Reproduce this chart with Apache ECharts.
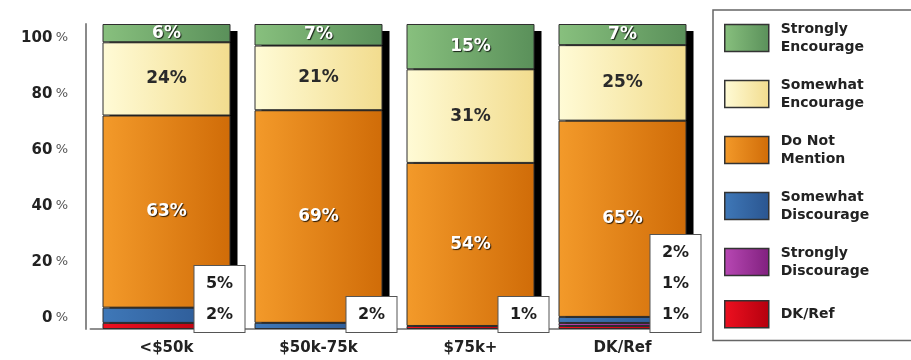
<!DOCTYPE html>
<html>
<head>
<meta charset="utf-8">
<script src="https://cdn.jsdelivr.net/npm/echarts@6/dist/echarts.min.js"></script>
<style>
html,body{margin:0;padding:0;background:#fff;}
#chart{width:911px;height:360px;}
</style>
</head>
<body>
<div id="chart"></div>
<script>
const categories = ['<$50k', '$50k-75k', '$75k+', 'DK/Ref'];
const stronglyEncourage = [6, 7, 15, 7];
const somewhatEncourage = [24, 21, 31, 25];
const doNotMention = [63, 69, 54, 65];
const somewhatDiscourage = [5, 2, 0, 2];
const stronglyDiscourage = [0, 0, 0, 1];
const dkRef = [2, 0, 1, 1];
const seriesNames = ['Strongly Encourage', 'Somewhat Encourage', 'Do Not Mention', 'Somewhat Discourage', 'Strongly Discourage', 'DK/Ref'];
const yTickInterval = 20;

const FONT = 'DejaVu Sans';
const BAR_W = 128;
const grad = (a, b) => new echarts.graphic.LinearGradient(0, 0, 1, 0, [{offset: 0, color: a}, {offset: 1, color: b}]);

const styles = {
  'Strongly Encourage': {fill: grad('#88c07e', '#5a905a'), label: 'light'},
  'Somewhat Encourage': {fill: grad('#fffbd6', '#f2dc8e'), label: 'dark'},
  'Do Not Mention': {fill: grad('#f39a2a', '#d06c08'), label: 'light'},
  'Somewhat Discourage': {fill: grad('#3f78b8', '#2a5590'), label: null},
  'Strongly Discourage': {fill: grad('#b848b4', '#80207e'), label: null},
  'DK/Ref': {fill: grad('#ee1020', '#b4000e'), label: null}
};
const values = {
  'Strongly Encourage': stronglyEncourage,
  'Somewhat Encourage': somewhatEncourage,
  'Do Not Mention': doNotMention,
  'Somewhat Discourage': somewhatDiscourage,
  'Strongly Discourage': stronglyDiscourage,
  'DK/Ref': dkRef
};

// totals per category: the chart shows each bar as a 100% stack
const totals = categories.map((c, i) => seriesNames.reduce((s, n) => s + values[n][i], 0));

// stacking order: bottom first
const stackOrder = seriesNames.slice().reverse();

const barSeries = stackOrder.map(name => {
  const s = styles[name];
  let label = {show: false};
  const fmt = p => p.data.raw + '%';
  if (s.label === 'light') {
    label = {show: true, position: 'inside', formatter: fmt, fontFamily: FONT, fontWeight: 'bold', fontSize: 17,
      color: '#ffffff', textShadowColor: 'rgba(0,0,0,0.8)', textShadowOffsetX: 1, textShadowOffsetY: 1, textShadowBlur: 1};
  } else if (s.label === 'dark') {
    label = {show: true, position: 'inside', formatter: fmt, fontFamily: FONT, fontWeight: 'bold', fontSize: 17, color: '#2a2a2a'};
  }
  return {
    name: name,
    type: 'bar',
    stack: 'total',
    barWidth: BAR_W,
    z: 3,
    data: values[name].map((v, i) => v === 0 ? {value: '-', raw: 0} : {value: v / totals[i] * 100, raw: v}),
    itemStyle: {color: s.fill, borderColor: '#2e2e2e', borderWidth: 1},
    label: label,
    emphasis: {disabled: true}
  };
});

// black drop shadow behind each full bar
const shadowSeries = {
  type: 'custom',
  z: 1,
  silent: true,
  clip: false,
  data: categories.map((c, i) => [i, 100]),
  renderItem: (params, api) => {
    const top = api.coord([api.value(0), api.value(1)]);
    const bottom = api.coord([api.value(0), 0]);
    return {
      type: 'rect',
      shape: {x: top[0] - BAR_W / 2 + 7, y: top[1] + 7, width: BAR_W, height: bottom[1] - top[1] - 7},
      style: {fill: '#000'}
    };
  }
};

// callout boxes for the small bottom segments
const smallLines = categories.map((c, i) => {
  const arr = [];
  if (somewhatDiscourage[i] > 0) arr.push(somewhatDiscourage[i] + '%');
  if (stronglyDiscourage[i] > 0) arr.push(stronglyDiscourage[i] + '%');
  if (dkRef[i] > 0) arr.push(dkRef[i] + '%');
  return arr.join('\n');
});

const calloutSeries = {
  type: 'scatter',
  z: 20,
  clip: false,
  symbolSize: 1,
  silent: true,
  itemStyle: {color: 'rgba(0,0,0,0)', opacity: 1},
  data: categories.map((c, i) => [i, 0]),
  label: {
    show: true,
    opacity: 1,
    position: 'inside',
    offset: [53, 3],
    align: 'center',
    verticalAlign: 'bottom',
    formatter: p => smallLines[p.dataIndex],
    fontFamily: FONT, fontWeight: 'bold', fontSize: 16, color: '#1e1e1e',
    lineHeight: 31,
    width: 38,
    backgroundColor: '#ffffff',
    borderColor: '#555', borderWidth: 1,
    padding: [2, 6, 2, 6]
  },
  emphasis: {disabled: true}
};

const chart = echarts.init(document.getElementById('chart'));
chart.setOption({
  animation: false,
  backgroundColor: '#fff',
  legend: {
    orient: 'vertical',
    left: 713, top: 10,
    padding: [10, 60, 12, 11],
    itemWidth: 44, itemHeight: 27, itemGap: 20,
    icon: 'rect',
    selectedMode: false,
    data: seriesNames,
    formatter: n => n.replace(/ (?=[^ ]*$)/, '\n'),
    textStyle: {fontFamily: FONT, fontWeight: 'bold', fontSize: 14, lineHeight: 18, color: '#222', padding: [0, 0, 0, 7]},
    itemStyle: {borderColor: '#333', borderWidth: 1.5},
    backgroundColor: '#fff',
    borderColor: '#666', borderWidth: 1.5
  },
  grid: [
    {left: 90.5, right: 212.5, top: 24, bottom: 31},
    {left: 76, width: 10, top: 38, bottom: 42}
  ],
  xAxis: [
    {type: 'category', gridIndex: 0, data: categories,
      axisLine: {lineStyle: {color: '#8f8f8f', width: 2}},
      axisTick: {show: false},
      axisLabel: {margin: 12, fontFamily: FONT, fontWeight: 'bold', fontSize: 15, color: '#222'}},
    {type: 'value', gridIndex: 1, show: false, min: 0, max: 1}
  ],
  yAxis: [
    {type: 'value', gridIndex: 0, min: 0, max: 100, offset: 5,
      axisLine: {show: true, lineStyle: {color: '#8a8a8a', width: 2}},
      axisTick: {show: false}, axisLabel: {show: false}, splitLine: {show: false}},
    {type: 'value', gridIndex: 1, min: 0, max: 100, interval: yTickInterval,
      axisLine: {show: false}, axisTick: {show: false}, splitLine: {show: false},
      axisLabel: {margin: 8, formatter: v => '{n|' + v + '} {p|%}',
        rich: {n: {fontFamily: FONT, fontWeight: 'bold', fontSize: 15, color: '#222'},
               p: {fontFamily: FONT, fontSize: 13, color: '#555'}}}}
  ],
  series: [shadowSeries].concat(barSeries, [calloutSeries])
});
</script>
</body>
</html>
